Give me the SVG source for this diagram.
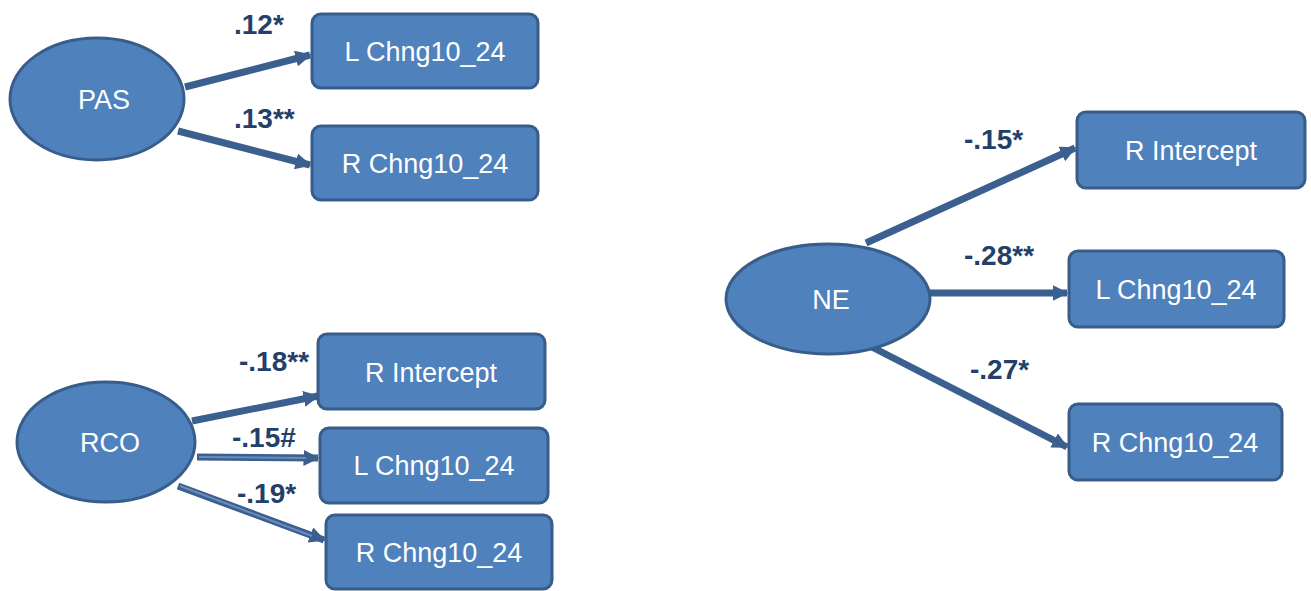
<svg xmlns="http://www.w3.org/2000/svg" width="1311" height="591" viewBox="0 0 1311 591">
  <defs>
    <style>
      .node { fill: #4F81BD; stroke: #385D8A; stroke-width: 3; }
      .lbl { font-family: "Liberation Sans", Arial, sans-serif; font-size: 27px; fill: #FFFFFF; text-anchor: middle; dominant-baseline: central; }
      .coef { font-family: "Liberation Sans", Arial, sans-serif; font-size: 28px; font-weight: bold; fill: #233F6A; }
      .edge { stroke: #3B5F8E; stroke-width: 7; fill: none; }
      .inner { stroke: #6A8DBD; stroke-width: 2; fill: none; }
    </style>
    <marker id="arrow" viewBox="0 0 10 10" refX="9" refY="5" markerWidth="2.3" markerHeight="2.3" orient="auto" markerUnits="strokeWidth">
      <path d="M0,0 L10,5 L0,10 Z" fill="#3B5F8E"/>
    </marker>
  </defs>

  <rect width="1311" height="591" fill="#FFFFFF"/>

  <!-- connectors -->
  <g id="connectors">
    <line class="edge" x1="185" y1="87" x2="310" y2="55" marker-end="url(#arrow)"/>
    <line class="edge" x1="178" y1="131" x2="310" y2="165" marker-end="url(#arrow)"/>

    <line class="edge" x1="192" y1="421" x2="318" y2="396" marker-end="url(#arrow)"/>
    <line class="edge" x1="197" y1="457" x2="318" y2="458" marker-end="url(#arrow)"/>
    <line class="inner" x1="199" y1="457" x2="306" y2="458"/>
    <line class="edge" x1="178" y1="486" x2="324" y2="540" marker-end="url(#arrow)"/>
    <line class="inner" x1="180" y1="486" x2="312" y2="536"/>

    <line class="edge" x1="866" y1="243" x2="1075" y2="148" marker-end="url(#arrow)"/>
    <line class="edge" x1="930" y1="293" x2="1067" y2="293" marker-end="url(#arrow)"/>
    <line class="edge" x1="866" y1="344" x2="1067" y2="447" marker-end="url(#arrow)"/>
  </g>

  <!-- PAS cluster -->
  <g id="pas">
    <ellipse class="node" cx="97" cy="99" rx="87" ry="61"/>
    <text class="lbl" x="104" y="100">PAS</text>
  </g>
  <g id="pas-l-chng">
    <rect class="node" x="312" y="14" width="226" height="74" rx="9"/>
    <text class="lbl" x="425" y="52">L Chng10_24</text>
  </g>
  <g id="pas-r-chng">
    <rect class="node" x="312" y="126" width="226" height="74" rx="9"/>
    <text class="lbl" x="425" y="164">R Chng10_24</text>
  </g>

  <!-- RCO cluster -->
  <g id="rco">
    <ellipse class="node" cx="106" cy="442" rx="89" ry="60"/>
    <text class="lbl" x="110" y="443">RCO</text>
  </g>
  <g id="rco-r-intercept">
    <rect class="node" x="318" y="334" width="227" height="75" rx="9"/>
    <text class="lbl" x="431" y="373">R Intercept</text>
  </g>
  <g id="rco-l-chng">
    <rect class="node" x="320" y="428" width="228" height="75" rx="9"/>
    <text class="lbl" x="434" y="466">L Chng10_24</text>
  </g>
  <g id="rco-r-chng">
    <rect class="node" x="326" y="515" width="226" height="74" rx="9"/>
    <text class="lbl" x="439" y="553">R Chng10_24</text>
  </g>

  <!-- NE cluster -->
  <g id="ne">
    <ellipse class="node" cx="828" cy="299" rx="102" ry="55"/>
    <text class="lbl" x="831" y="300">NE</text>
  </g>
  <g id="ne-r-intercept">
    <rect class="node" x="1077" y="112" width="228" height="76" rx="9"/>
    <text class="lbl" x="1191" y="151">R Intercept</text>
  </g>
  <g id="ne-l-chng">
    <rect class="node" x="1069" y="251" width="215" height="76" rx="9"/>
    <text class="lbl" x="1176" y="290">L Chng10_24</text>
  </g>
  <g id="ne-r-chng">
    <rect class="node" x="1069" y="404" width="213" height="76" rx="9"/>
    <text class="lbl" x="1175" y="443">R Chng10_24</text>
  </g>

  <!-- path coefficients -->
  <g id="coefficients">
    <text class="coef" x="234" y="34">.12*</text>
    <text class="coef" x="234" y="128">.13**</text>
    <text class="coef" x="239" y="371">-.18**</text>
    <text class="coef" x="232" y="447">-.15#</text>
    <text class="coef" x="237" y="503">-.19*</text>
    <text class="coef" x="964" y="149">-.15*</text>
    <text class="coef" x="964" y="265">-.28**</text>
    <text class="coef" x="970" y="379">-.27*</text>
  </g>
</svg>
